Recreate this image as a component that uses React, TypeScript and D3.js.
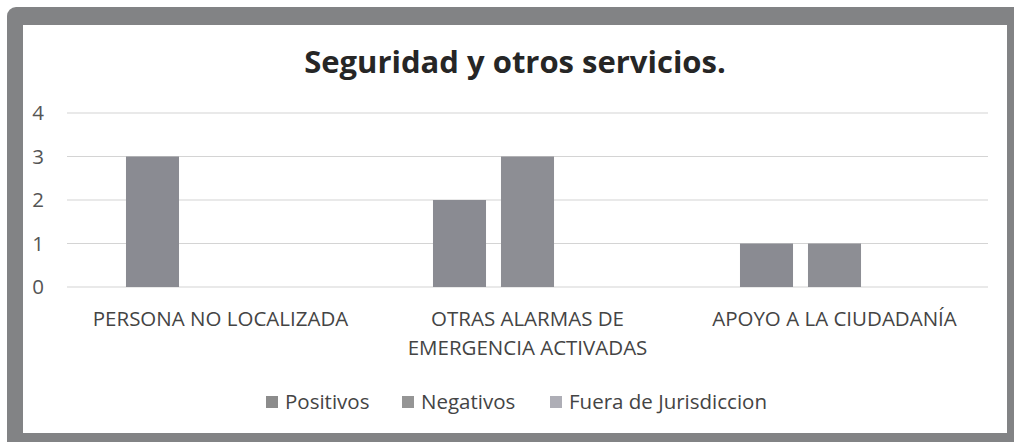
import React from "react";
import * as d3 from "d3";

const categories: string[][] = [
  ["PERSONA NO LOCALIZADA"],
  ["OTRAS ALARMAS DE", "EMERGENCIA ACTIVADAS"],
  ["APOYO A LA CIUDADANÍA"],
];
const seriesNames = ["Positivos", "Negativos", "Fuera de Jurisdiccion"];
const positivos = [3, 2, 1];
const negativos = [0, 3, 1];
const fueraJurisdiccion = [0, 0, 0];
const yTicks = [0, 1, 2, 3, 4];
const title = "Seguridad y otros servicios.";

const seriesValues = [positivos, negativos, fueraJurisdiccion];
const seriesColors = ["#8a8b92", "#8d8e94", "#a9aab2"];
const legendColors = ["#8c8c8c", "#959595", "#aeaeb6"];

const W = 1014;
const H = 442;
const FONT = "'Open Sans', 'DejaVu Sans', sans-serif";
const FS = 20.5;

export default function App() {
  const catKeys = categories.map((c) => c.join(" "));
  const x0 = d3.scaleBand<string>().domain(catKeys).range([67, 988]).padding(0);
  const x1 = d3
    .scaleBand<string>()
    .domain(seriesNames)
    .range([0, 204])
    .paddingInner(0.22)
    .paddingOuter(0.11);
  const y = d3.scaleLinear().domain([0, 4]).range([287, 113]);

  const legendX = [266, 402, 550];

  return (
    <svg
      width={W}
      height={H}
      style={{ position: "absolute", left: 0, top: 0, display: "block" }}
    >
      <rect x={0} y={0} width={W} height={H} fill="#ffffff" />
      <rect x={7} y={7} width={W - 7 + 10} height={H - 7 + 10} rx={9} fill="#828385" />
      <rect x={23} y={25} width={1007 - 23} height={433 - 25} fill="#ffffff" />

      <text
        x={515}
        y={73}
        textAnchor="middle"
        fontFamily={FONT}
        fontWeight="bold"
        fontSize={31}
        fill="#262626"
      >
        {title}
      </text>

      {yTicks.map((t) => (
        <g key={t}>
          <line
            x1={67}
            x2={988}
            y1={y(t)}
            y2={y(t)}
            stroke="#d4d4d4"
            strokeWidth={1.2}
          />
          <text
            x={38}
            y={y(t) + 7}
            textAnchor="middle"
            fontFamily={FONT}
            fontSize={FS}
            fill="#555"
          >
            {t}
          </text>
        </g>
      ))}

      {catKeys.map((k, ci) => {
        const cx = (x0(k) as number) + x0.bandwidth() / 2;
        const gx = cx - 102;
        return (
          <g key={k}>
            {seriesNames.map((s, si) => {
              const v = seriesValues[si][ci];
              if (!v) return null;
              return (
                <rect
                  key={s}
                  x={gx + (x1(s) as number)}
                  y={y(v)}
                  width={x1.bandwidth()}
                  height={y(0) - y(v)}
                  fill={seriesColors[si]}
                />
              );
            })}
            {categories[ci].map((line, li) => (
              <text
                key={li}
                x={cx}
                y={326 + li * 29}
                textAnchor="middle"
                fontFamily={FONT}
                fontSize={FS}
                fill="#444"
              >
                {line}
              </text>
            ))}
          </g>
        );
      })}

      {seriesNames.map((s, i) => (
        <g key={s}>
          <rect x={legendX[i]} y={396} width={12} height={12} fill={legendColors[i]} />
          <text
            x={legendX[i] + 19}
            y={409}
            fontFamily={FONT}
            fontSize={FS}
            fill="#444"
          >
            {s}
          </text>
        </g>
      ))}
    </svg>
  );
}
